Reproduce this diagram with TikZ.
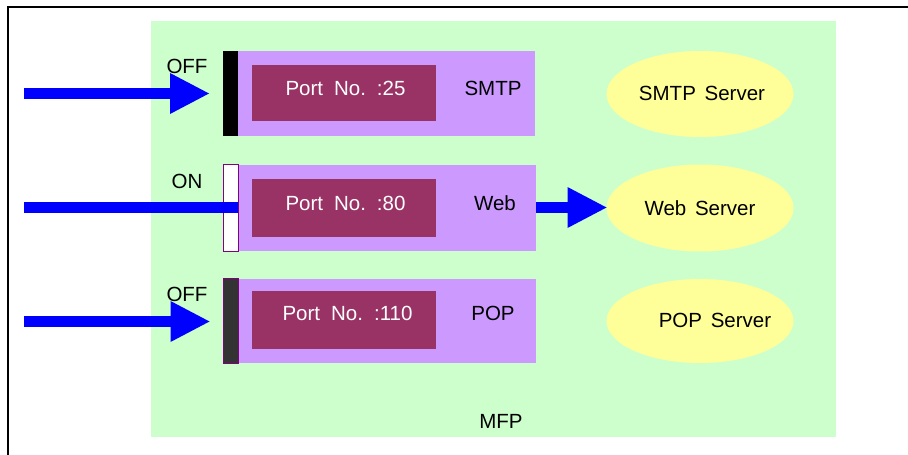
\documentclass[tikz,border=0pt]{standalone}
\usepackage{fontspec}
\setmainfont{Liberation Sans}
\usetikzlibrary{arrows.meta,shapes.geometric}
\definecolor{mfpgreen}{HTML}{CCFFCC}
\definecolor{portpurple}{HTML}{CC99FF}
\definecolor{portinner}{HTML}{993366}
\definecolor{srvyellow}{HTML}{FFFF99}
\definecolor{bardark}{HTML}{333333}
\definecolor{barborder}{HTML}{800080}
\newcommand{\gapsp}{\hspace{11pt}}
\begin{document}
\begin{tikzpicture}[x=1pt,y=-1pt,
  every node/.style={inner sep=0pt,outer sep=0pt,font=\fontsize{20.5}{22}\selectfont},
  box/.style={rectangle,anchor=north west},
  portbox/.style={box,fill=portpurple,minimum width=298pt,minimum height=85pt},
  innerbox/.style={box,fill=portinner,minimum width=184pt,minimum height=56pt},
  portlabel/.style={text=white},
  srv/.style={ellipse,fill=srvyellow,minimum width=187pt,minimum height=86pt},
  bluearrow/.style={draw=blue,line width=11pt,-{Triangle[length=39pt,width=41pt,line width=0pt]}},
  blueline/.style={draw=blue,line width=11pt},
]
\useasboundingbox (0,0) rectangle (908,455);
\fill[white] (0,0) rectangle (908,455);
% frame
\draw[line width=2pt] (8,456) -- (8,7) -- (909,7);
% MFP
\node[box,fill=mfpgreen,minimum width=685pt,minimum height=416pt] (mfp) at (151,21) {};
\node (mfplbl) at (501,421) {MFP};
% row 1 SMTP
\node[portbox] (p1) at (237,51) {};
\node[box,fill=black,minimum width=15pt,minimum height=85pt] (bar1) at (223,51) {};
\node[innerbox] (i1) at (252,65) {};
\node[portlabel] (t1) at (345.5,88) {Port\gapsp No.\gapsp:25};
\node (n1) at (493,88) {SMTP};
\node (s1lbl) at (187,66) {OFF};
\node[srv] (srv1) at (700,94) {};
\node (srv1t) at (702,93) {SMTP\hspace{3pt} Server};
\coordinate (a1) at (24,93.5);
\draw[bluearrow,shorten >=14pt] (a1) -- (bar1.west |- a1);
% row 2 Web
\node[portbox,minimum height=86pt] (p2) at (238,165) {};
\node[box,fill=white,draw=barborder,line width=1pt,minimum width=15pt,minimum height=87pt] (bar2) at (223.5,164.5) {};
\node[innerbox,minimum height=58pt] (i2) at (252,179) {};
\node[portlabel] (t2) at (345.5,203) {Port\gapsp No.\gapsp:80};
\node (n2) at (495,203) {Web};
\node (s2lbl) at (187,181) {ON};
\node[srv,minimum height=87pt] (srv2) at (700,208) {};
\node (srv2t) at (700,208) {Web\hspace{3pt} Server};
\coordinate (a2) at (24,207.5);
\draw[blueline] (a2) -- (p2.west |- a2);
\draw[bluearrow] (p2.east |- a2) -- (srv2.west |- a2);
% row 3 POP
\node[portbox,minimum height=84pt] (p3) at (238,279) {};
\node[box,fill=bardark,draw=barborder,line width=1pt,minimum width=15pt,minimum height=85pt] (bar3) at (223.5,278.5) {};
\node[innerbox,minimum height=58pt] (i3) at (252,291) {};
\node[portlabel] (t3) at (347.5,313) {Port\gapsp No.\gapsp:110};
\node (n3) at (493,313) {POP};
\node (s3lbl) at (187,294) {OFF};
\node[srv,minimum height=84pt] (srv3) at (700,321) {};
\node (srv3t) at (715,320) {POP\hspace{3pt} Server};
\coordinate (a3) at (24,321.5);
\draw[bluearrow,shorten >=14pt] (a3) -- (bar3.west |- a3);
\end{tikzpicture}
\end{document}
